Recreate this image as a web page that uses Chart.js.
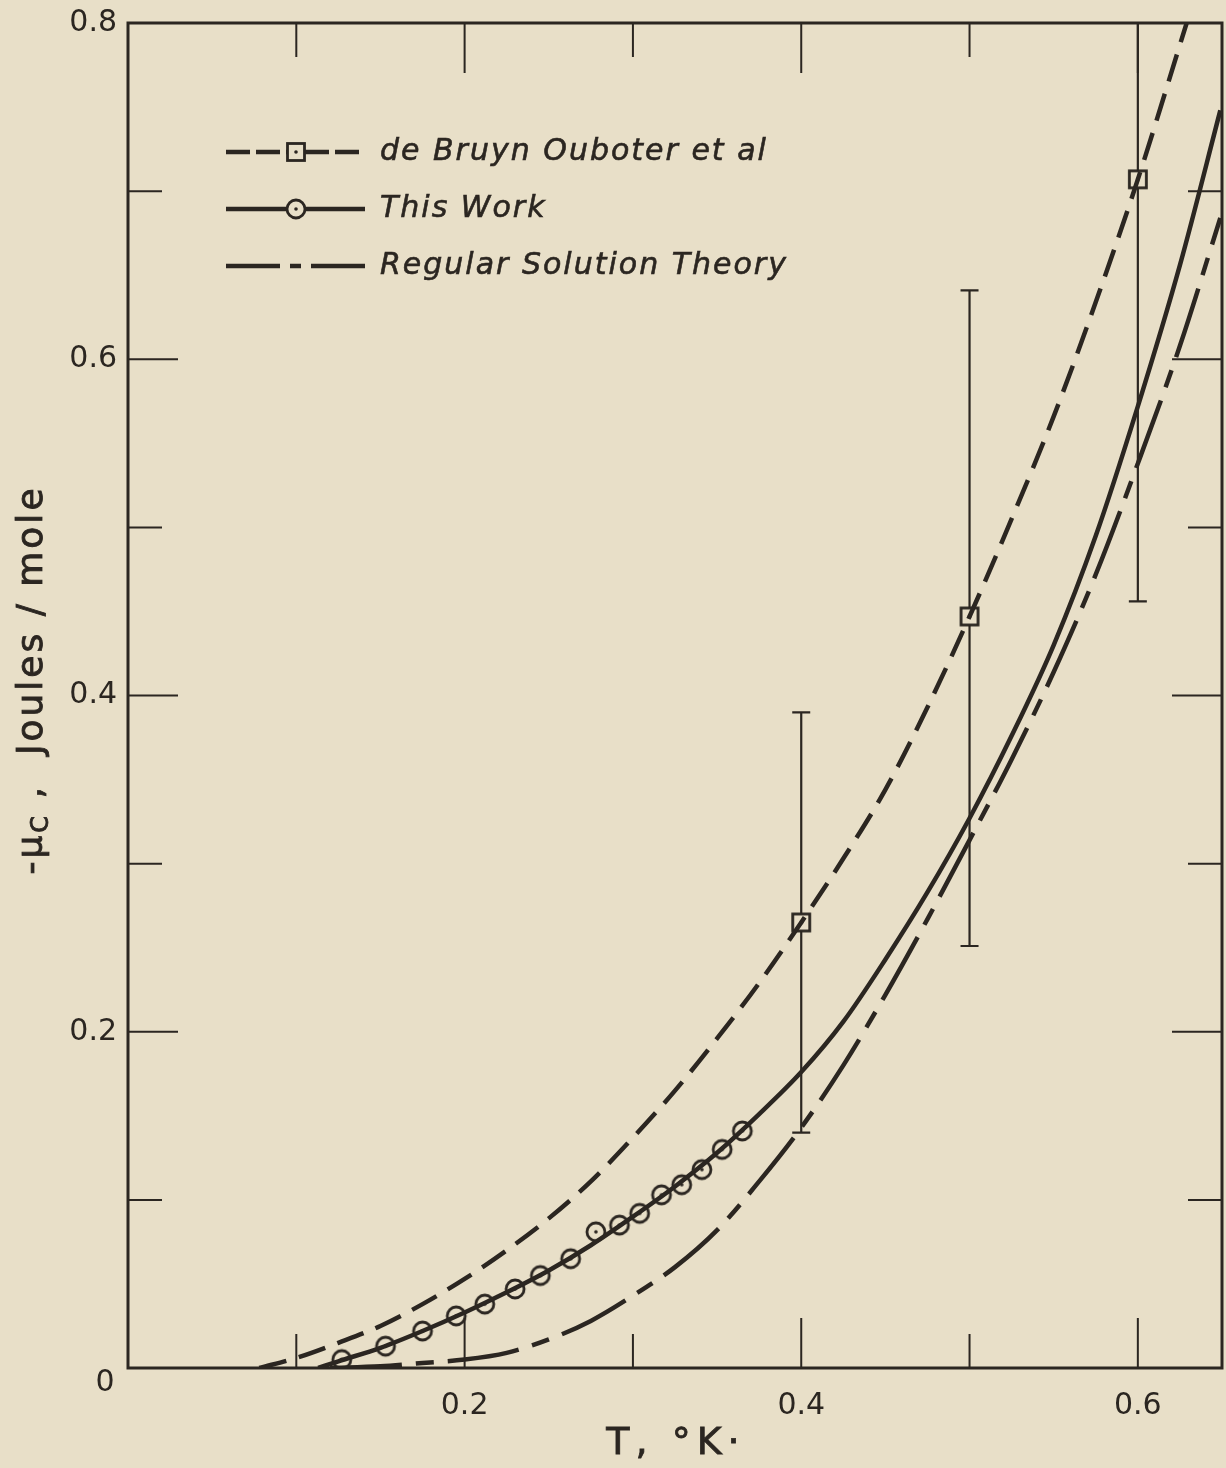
<!DOCTYPE html>
<html>
<head>
<meta charset="utf-8">
<script src="https://cdn.jsdelivr.net/npm/chart.js@4.4.1/dist/chart.umd.min.js"></script>
<style>
  html, body { margin: 0; padding: 0; background: #e8dfc8; overflow: hidden; }
  canvas { display: block; }
</style>
</head>
<body>
<canvas id="muChart" width="1226" height="1468"></canvas>
<script>
const ink = '#2b2621';
const paper = '#e8dfc8';
const fam = '"DejaVu Sans", "Liberation Sans", sans-serif';

// de Bruyn Ouboter et al: points with error bars, and their dashed curve
const bruynT = [0.4, 0.5, 0.6];
const bruynMu = [0.265, 0.447, 0.707];
const bruynLow = [0.140, 0.251, 0.456];
const bruynHigh = [0.390, 0.641, 0.860];
const bruynCurveT = [0.078, 0.10, 0.125, 0.15, 0.175, 0.20, 0.225, 0.25, 0.275, 0.30, 0.325, 0.35,
  0.375, 0.40, 0.425, 0.45, 0.475, 0.50, 0.525, 0.55, 0.575, 0.60, 0.629];
const bruynCurveMu = [0.000, 0.006, 0.015, 0.025, 0.038, 0.053, 0.070, 0.089, 0.111, 0.137, 0.165, 0.196,
  0.229, 0.265, 0.303, 0.344, 0.393, 0.447, 0.505, 0.566, 0.634, 0.707, 0.800];

// this work: measured points and the solid curve
const workT = [0.127, 0.153, 0.175, 0.195, 0.212, 0.230, 0.245, 0.263, 0.278, 0.292, 0.304, 0.317,
  0.329, 0.341, 0.353, 0.365];
const workMu = [0.005, 0.013, 0.022, 0.031, 0.038, 0.047, 0.055, 0.065, 0.081, 0.085, 0.092, 0.103,
  0.109, 0.118, 0.130, 0.141];
const workCurveT = [0.113, 0.125, 0.15, 0.175, 0.20, 0.225, 0.25, 0.275, 0.30, 0.325, 0.35, 0.375,
  0.40, 0.425, 0.45, 0.475, 0.50, 0.525, 0.55, 0.575, 0.60, 0.625, 0.649];
const workCurveMu = [0.000, 0.004, 0.012, 0.022, 0.033, 0.045, 0.058, 0.073, 0.090, 0.108, 0.128, 0.151,
  0.176, 0.206, 0.243, 0.283, 0.327, 0.376, 0.430, 0.495, 0.572, 0.656, 0.748];

// regular solution theory
const theoryT = [0.12, 0.15, 0.175, 0.20, 0.225, 0.25, 0.275, 0.30, 0.325, 0.35, 0.375, 0.40,
  0.425, 0.45, 0.475, 0.50, 0.525, 0.55, 0.575, 0.60, 0.625, 0.649];
const theoryMu = [0.000, 0.001, 0.003, 0.005, 0.009, 0.017, 0.028, 0.043, 0.060, 0.082, 0.111, 0.143,
  0.180, 0.222, 0.267, 0.314, 0.362, 0.414, 0.472, 0.538, 0.608, 0.684];

const xTicks = [0.1, 0.2, 0.3, 0.4, 0.5, 0.6];
const yTicks = [0, 0.1, 0.2, 0.3, 0.4, 0.5, 0.6, 0.7, 0.8];
const xTickLabels = ['0.2', '0.4', '0.6'];
const yTickLabels = ['0.2', '0.4', '0.6', '0.8'];
const majorTicks = ['0.2', '0.4', '0.6'];

const pts = (xs, ys) => xs.map((x, i) => ({ x: x, y: ys[i] }));

function marker(shape) {
    const c = document.createElement('canvas');
    c.width = c.height = 26;
    const g = c.getContext('2d');
    g.fillStyle = paper;
    g.strokeStyle = ink;
    g.lineWidth = 2.8;
    if (shape === 'circle') {
        g.beginPath(); g.arc(13, 13, 9, 0, Math.PI * 2); g.fill(); g.stroke();
    } else {
        g.fillRect(4.5, 4.5, 17, 17); g.strokeRect(4.5, 4.5, 17, 17);
    }
    g.fillStyle = ink;
    g.beginPath(); g.arc(13, 13, 1.8, 0, Math.PI * 2); g.fill();
    return c;
}
const circleMark = marker('circle');
const squareMark = marker('square');

const paperBg = {
    id: 'paperBg',
    beforeDraw(chart) {
        const ctx = chart.ctx;
        ctx.save();
        ctx.fillStyle = paper;
        ctx.fillRect(0, 0, chart.width, chart.height);
        ctx.restore();
    }
};

const errorBars = {
    id: 'errorBars',
    beforeDatasetsDraw(chart) {
        const { ctx, chartArea: a, scales: { x, y } } = chart;
        ctx.save();
        ctx.beginPath();
        ctx.rect(a.left, a.top, a.right - a.left, a.bottom - a.top);
        ctx.clip();
        ctx.strokeStyle = ink;
        ctx.lineWidth = 2.2;
        bruynT.forEach((t, i) => {
            const px = x.getPixelForValue(t);
            const lo = y.getPixelForValue(bruynLow[i]);
            const hi = y.getPixelForValue(bruynHigh[i]);
            ctx.beginPath();
            ctx.moveTo(px, lo); ctx.lineTo(px, hi);
            ctx.moveTo(px - 9, lo); ctx.lineTo(px + 9, lo);
            ctx.moveTo(px - 9, hi); ctx.lineTo(px + 9, hi);
            ctx.stroke();
        });
        ctx.restore();
    }
};

const frameTicks = {
    id: 'frameTicks',
    afterDatasetsDraw(chart) {
        const { ctx, chartArea: a, scales: { x, y } } = chart;
        ctx.save();
        ctx.strokeStyle = ink;
        ctx.lineWidth = 2;
        xTicks.forEach(t => {
            const len = majorTicks.includes(t.toFixed(1)) ? 50 : 34;
            const px = x.getPixelForValue(t);
            ctx.beginPath();
            ctx.moveTo(px, a.bottom); ctx.lineTo(px, a.bottom - len);
            ctx.moveTo(px, a.top); ctx.lineTo(px, a.top + len);
            ctx.stroke();
        });
        yTicks.slice(1, -1).forEach(t => {
            const len = majorTicks.includes(t.toFixed(1)) ? 50 : 34;
            const py = y.getPixelForValue(t);
            ctx.beginPath();
            ctx.moveTo(a.left, py); ctx.lineTo(a.left + len, py);
            ctx.moveTo(a.right, py); ctx.lineTo(a.right - len, py);
            ctx.stroke();
        });
        ctx.lineWidth = 3;
        ctx.strokeRect(a.left, a.top, a.right - a.left, a.bottom - a.top);

        // the lone "0" sits below-left of the origin
        ctx.fillStyle = ink;
        ctx.font = '30px ' + fam;
        ctx.textAlign = 'center';
        ctx.textBaseline = 'middle';
        ctx.fillText('0', x.getPixelForValue(0) - 23, y.getPixelForValue(0) + 15);
        ctx.restore();
    }
};

const legendBox = {
    id: 'legendBox',
    afterDraw(chart) {
        const ctx = chart.ctx;
        const x0 = 226, x1 = 365, xm = 296, tx = 380;
        const rows = [
            { y: 152, label: 'de Bruyn Ouboter et al', dash: [24, 6], mark: squareMark },
            { y: 209, label: 'This Work', dash: [], mark: circleMark },
            { y: 266, label: 'Regular Solution Theory', dash: [54, 10, 11, 10], mark: null }
        ];
        ctx.save();
        ctx.strokeStyle = ink;
        ctx.lineWidth = 4.5;
        rows.forEach(r => {
            ctx.setLineDash(r.dash);
            ctx.beginPath();
            if (r.mark) {
                ctx.moveTo(x0, r.y); ctx.lineTo(xm - 9, r.y);
                ctx.stroke();
                ctx.beginPath();
                ctx.moveTo(xm + 9, r.y); ctx.lineTo(x1, r.y);
            } else {
                ctx.moveTo(x0, r.y); ctx.lineTo(x1, r.y);
            }
            ctx.stroke();
            if (r.mark) ctx.drawImage(r.mark, xm - 13, r.y - 13);
        });
        ctx.setLineDash([]);
        ctx.fillStyle = ink;
        ctx.strokeStyle = ink;
        ctx.lineWidth = 0.6;
        ctx.font = 'italic 30px ' + fam;
        ctx.letterSpacing = '2px';
        ctx.textAlign = 'left';
        ctx.textBaseline = 'middle';
        rows.forEach(r => { ctx.fillText(r.label, tx, r.y); ctx.strokeText(r.label, tx, r.y); });
        ctx.restore();
    }
};

const axisTitles = {
    id: 'axisTitles',
    afterDraw(chart) {
        const ctx = chart.ctx;
        ctx.save();
        ctx.fillStyle = ink;
        ctx.strokeStyle = ink;
        ctx.lineWidth = 0.8;
        ctx.textBaseline = 'middle';

        // x title
        ctx.font = '38px ' + fam;
        ctx.letterSpacing = '6px';
        ctx.textAlign = 'center';
        ctx.fillText('T, \u00b0K\u00b7', 676, 1444);
        ctx.strokeText('T, \u00b0K\u00b7', 676, 1444);

        // y title, with the subscript C
        ctx.translate(33, 680);
        ctx.rotate(-Math.PI / 2);
        ctx.letterSpacing = '3px';
        ctx.textAlign = 'left';
        const big = '36px ' + fam;
        const small = '24px ' + fam;
        const parts = [
            { t: '-\u03bc', f: big, dy: 0 },
            { t: 'C', f: small, dy: 9 },
            { t: ' ,  Joules / mole', f: big, dy: 0 }
        ];
        let total = 0;
        parts.forEach(p => { ctx.font = p.f; p.w = ctx.measureText(p.t).width; total += p.w; });
        let cx = -total / 2;
        parts.forEach(p => {
            ctx.font = p.f;
            ctx.fillText(p.t, cx, p.dy);
            ctx.strokeText(p.t, cx, p.dy);
            cx += p.w;
        });
        ctx.restore();
    }
};

const lineStyle = {
    borderColor: ink,
    borderWidth: 4.5,
    pointRadius: 0,
    fill: false,
    cubicInterpolationMode: 'monotone'
};

new Chart(document.getElementById('muChart'), {
    type: 'line',
    data: {
        datasets: [
            Object.assign({ label: 'Regular Solution Theory', data: pts(theoryT, theoryMu),
                borderDash: [72, 14, 18, 14] }, lineStyle),
            Object.assign({ label: 'de Bruyn Ouboter et al (curve)', data: pts(bruynCurveT, bruynCurveMu),
                borderDash: [28, 13] }, lineStyle),
            Object.assign({ label: 'This Work (curve)', data: pts(workCurveT, workCurveMu) }, lineStyle),
            { label: 'de Bruyn Ouboter et al', data: pts(bruynT, bruynMu), showLine: false,
              pointStyle: squareMark, pointRadius: 10 },
            { label: 'This Work', data: pts(workT, workMu), showLine: false,
              pointStyle: circleMark, pointRadius: 10 }
        ]
    },
    options: {
        responsive: false,
        animation: false,
        events: [],
        layout: { autoPadding: false, padding: { top: 23, right: 4, left: 0, bottom: 0 } },
        plugins: { legend: { display: false }, tooltip: { enabled: false } },
        scales: {
            x: {
                type: 'linear', min: 0, max: 0.65,
                grid: { display: false, drawTicks: false },
                border: { display: false },
                afterBuildTicks: s => { s.ticks = xTicks.map(v => ({ value: v })); },
                ticks: {
                    padding: 20, color: ink, maxRotation: 0, autoSkip: false,
                    font: { family: fam, size: 30 },
                    callback: v => {
                        const s = v.toFixed(1);
                        return xTickLabels.includes(s) ? s : '';
                    }
                },
                afterFit: s => { s.height = 100; s.paddingLeft = 0; s.paddingRight = 0; }
            },
            y: {
                type: 'linear', min: 0, max: 0.8,
                grid: { display: false, drawTicks: false },
                border: { display: false },
                afterBuildTicks: s => { s.ticks = yTicks.map(v => ({ value: v })); },
                ticks: {
                    padding: 11, color: ink, autoSkip: false,
                    font: { family: fam, size: 30 },
                    callback: v => {
                        const s = v.toFixed(1);
                        return yTickLabels.includes(s) ? s : '';
                    }
                },
                afterFit: s => { s.width = 128; s.paddingTop = 0; s.paddingBottom = 0; }
            }
        }
    },
    plugins: [paperBg, errorBars, frameTicks, legendBox, axisTitles]
});
</script>
</body>
</html>
